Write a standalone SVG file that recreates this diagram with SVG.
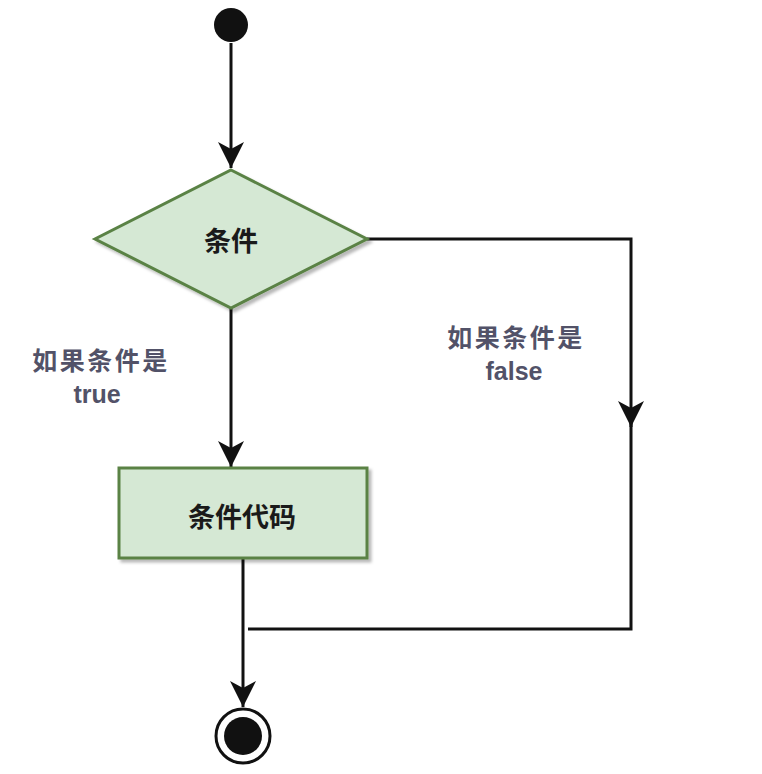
<svg xmlns="http://www.w3.org/2000/svg" width="762" height="774" viewBox="0 0 762 774">
<defs>
<marker id="arr" viewBox="0 0 26 26" refX="26" refY="13" markerWidth="26" markerHeight="26" markerUnits="userSpaceOnUse" orient="auto">
<path d="M0,0 L26,13 L0,26 L7,13 Z" fill="#111"/>
</marker>
<filter id="sh" x="-10%" y="-10%" width="130%" height="130%">
<feDropShadow dx="3" dy="3" stdDeviation="1.5" flood-color="#000" flood-opacity="0.28"/>
</filter>
</defs>
<style>
.node{fill:#d5e8d4;stroke:#5a8245;stroke-width:3;filter:url(#sh)}
.edge{fill:none;stroke:#111;stroke-width:3}
.t{font-family:"Noto Sans CJK SC","Liberation Sans",sans-serif;font-weight:bold;font-size:27px;fill:#1a1a1a;text-anchor:middle}
.lbl{font-family:"Noto Sans CJK SC","Liberation Sans",sans-serif;font-weight:bold;font-size:25px;fill:#525268;text-anchor:middle}
.cjk{letter-spacing:2.5px}
.lat{font-family:"Liberation Sans",sans-serif;font-weight:bold;font-size:25px;fill:#525268;text-anchor:middle}
</style>
<rect width="762" height="774" fill="#fff"/>
<g id="connectors">
<path class="edge" d="M231,43 V168" marker-end="url(#arr)"/>
<path class="edge" d="M231,308 V467" marker-end="url(#arr)"/>
<path class="edge" d="M367,239 H631 V427" marker-end="url(#arr)"/>
<path class="edge" d="M631,420 V629 H248"/>
<path class="edge" d="M243,558 V707" marker-end="url(#arr)"/>
</g>
<g id="start">
<circle cx="231" cy="25" r="17" fill="#111"/>
</g>
<g id="cond">
<polygon class="node" points="231,170 367,239 231,308 95,239"/>
<text class="t" x="231" y="251">条件</text>
</g>
<g id="code">
<rect class="node" x="119" y="468" width="248" height="90"/>
<text class="t" x="242" y="527">条件代码</text>
</g>
<g id="end">
<circle cx="243" cy="736" r="27" fill="#fff" stroke="#111" stroke-width="3"/>
<circle cx="243" cy="736" r="19" fill="#111"/>
</g>
<g id="label-true">
<text class="lbl cjk" x="101" y="370">如果条件是</text>
<text class="lat" x="97" y="403">true</text>
</g>
<g id="label-false">
<text class="lbl cjk" x="516" y="347">如果条件是</text>
<text class="lat" x="514" y="380">false</text>
</g>
</svg>
